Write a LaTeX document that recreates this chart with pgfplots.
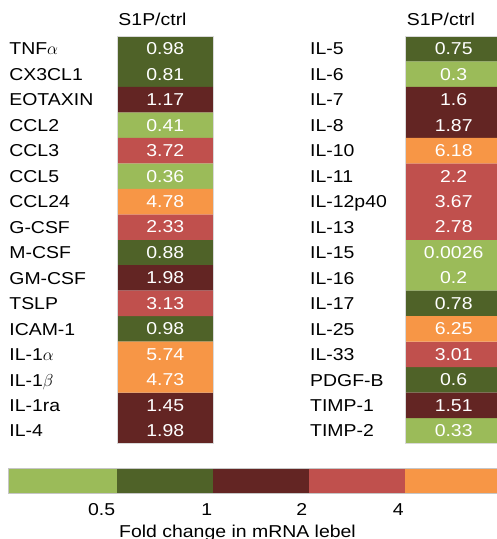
\documentclass[border=0pt]{standalone}
\usepackage{pgfplots}
\usepackage{pgfplotstable}
\pgfplotsset{compat=1.18}
\usepackage{fontspec}
\setmainfont{Liberation Sans}[FakeStretch=1.13]
\definecolor{lg}{RGB}{155,187,89}
\definecolor{dg}{RGB}{79,98,40}
\definecolor{dr}{RGB}{99,37,35}
\definecolor{rr}{RGB}{192,80,77}
\definecolor{oo}{RGB}{247,150,70}

\pgfplotstableread{
row val
0 0.98
1 0.81
2 1.17
3 0.41
4 3.72
5 0.36
6 4.78
7 2.33
8 0.88
9 1.98
10 3.13
11 0.98
12 5.74
13 4.73
14 1.45
15 1.98
}\lefttab

\pgfplotstableread{
row val
0 0.75
1 0.3
2 1.6
3 1.87
4 6.18
5 2.2
6 3.67
7 2.78
8 0.0026
9 0.2
10 0.78
11 6.25
12 3.01
13 0.6
14 1.51
15 0.33
}\righttab

\pgfplotsset{
  cellcol/.style={
    scale only axis, width=96pt, height=407.5pt,
    anchor=north west,
    xmin=0, xmax=1, ymin=-0.5, ymax=15.5, y dir=reverse,
    axis line style={gray!30, line width=0.6pt}, axis on top,
    major tick length=0pt,
    xtick=\empty, ytick={0,...,15},
    yticklabel style={anchor=base west, inner sep=0pt, yshift=-6.2pt},
    clip=false,
    title={S1P/ctrl},
    title style={at={(0,1)}, anchor=base west, inner sep=0pt, yshift=5pt, xshift=1pt},
  },
  cellbar/.style={xbar, bar width=1, bar shift=0pt, draw=none, fill=#1},
}

\newcommand\cells[1]{%
  \addplot[cellbar=lg, restrict expr to domain={\thisrow{val}}{0:0.5}] table[x expr=1, y=row] {#1};
  \addplot[cellbar=dg, restrict expr to domain={\thisrow{val}}{0.5:1}] table[x expr=1, y=row] {#1};
  \addplot[cellbar=dr, restrict expr to domain={\thisrow{val}}{1:2}] table[x expr=1, y=row] {#1};
  \addplot[cellbar=rr, restrict expr to domain={\thisrow{val}}{2:4}] table[x expr=1, y=row] {#1};
  \addplot[cellbar=oo, restrict expr to domain={\thisrow{val}}{4:100}] table[x expr=1, y=row] {#1};
  \addplot[only marks, mark=none, point meta=explicit symbolic,
    nodes near coords,
    every node near coord/.append style={white, anchor=center, inner sep=0pt}]
    table[x expr=0.5, y=row, meta=val] {#1};
}

\begin{document}
\fontsize{17.2}{20.6}\selectfont
\begin{tikzpicture}
\useasboundingbox (0pt,0pt) rectangle (497pt,-539pt);

\begin{axis}[cellcol, at={(117.3pt,-36pt)},
  yticklabels={TNF$\alpha$,CX3CL1,EOTAXIN,CCL2,CCL3,CCL5,CCL24,G-CSF,M-CSF,GM-CSF,TSLP,ICAM-1,IL-1$\alpha$,IL-1$\beta$,IL-1ra,IL-4},
  yticklabel style={xshift=-108.1pt}]
\cells{\lefttab}
\end{axis}

\begin{axis}[cellcol, at={(405.7pt,-36pt)},
  yticklabels={IL-5,IL-6,IL-7,IL-8,IL-10,IL-11,IL-12p40,IL-13,IL-15,IL-16,IL-17,IL-25,IL-33,PDGF-B,TIMP-1,TIMP-2},
  yticklabel style={xshift=-95.7pt}]
\cells{\righttab}
\end{axis}

\begin{axis}[scale only axis, width=493pt, height=25pt,
  at={(8.3pt,-468.3pt)}, anchor=north west,
  xmin=8.3, xmax=501.3, ymin=0, ymax=1,
  ytick=\empty, xtick={101.7,206.7,301.7,398.3}, xticklabels={0.5,1,2,4},
  major tick length=0pt,
  xticklabel style={anchor=base, inner sep=0pt, yshift=-21.7pt},
  axis line style={gray!45, line width=0.7pt}, axis on top,
  xlabel={Fold change in mRNA lebel},
  xlabel style={at={(axis description cs:0.4649,0)}, anchor=base, inner sep=0pt, yshift=-44.2pt},
  clip=false]
\addplot[ybar interval, fill=lg, draw=none] coordinates {(8.3,1) (117.3,1)};
\addplot[ybar interval, fill=dg, draw=none] coordinates {(117.3,1) (213.3,1)};
\addplot[ybar interval, fill=dr, draw=none] coordinates {(213.3,1) (309.3,1)};
\addplot[ybar interval, fill=rr, draw=none] coordinates {(309.3,1) (405.3,1)};
\addplot[ybar interval, fill=oo, draw=none] coordinates {(405.3,1) (501.3,1)};
\end{axis}
\end{tikzpicture}
\end{document}
